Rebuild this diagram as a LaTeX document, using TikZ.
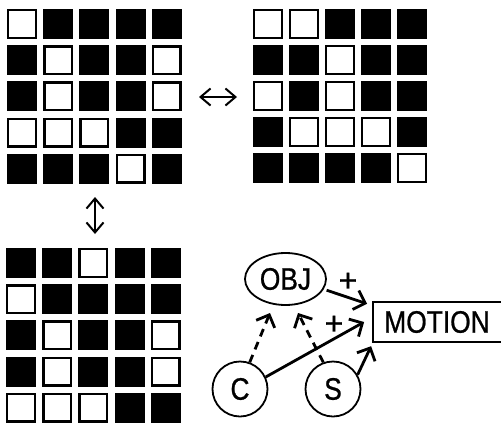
\documentclass[tikz,border=0pt]{standalone}
\usepackage{fontspec}
\newfontfamily\lblfont[FakeStretch=0.85,FakeBold=0.8]{Liberation Sans}
\newfontfamily\plusfont[FakeBold=1]{Liberation Sans}
\usetikzlibrary{arrows.meta,shapes.geometric}
\newcommand\drawgrid[4]{%
  \foreach \row [count=\i from 0] in {#4} {%
    \foreach \v [count=\j from 0] in \row {%
      \pgfmathsetmacro\cx{#1+#3*\j}%
      \pgfmathsetmacro\cy{#2+#3*\i}%
      \ifnum\v=1
        \draw[wcell] (\cx+1.2,\cy+1.2) rectangle (\cx+28.8,\cy+28.8);
      \else
        \fill[bcell] (\cx,\cy) rectangle (\cx+30,\cy+30);
      \fi
    }%
  }%
}
\begin{document}
\begin{tikzpicture}[x=1pt,y=-1pt,
  wcell/.style={draw=black,line width=2.4pt,fill=white},
  bcell/.style={fill=black},
  lbl/.style={font=\lblfont\fontsize{31}{31}\selectfont},
  plus/.style={font=\plusfont\fontsize{32}{32}\selectfont,inner sep=0pt},
  arr/.style={line width=2.8pt,-{Straight Barb[length=10pt,width=20pt]}},
  darr/.style={arr,dash pattern=on 8pt off 6pt},
  dbl/.style={line width=2pt,{Straight Barb[length=10pt,width=17pt]}-{Straight Barb[length=10pt,width=17pt]}},
  ring/.style={draw,line width=1.8pt,inner sep=0pt}]
\useasboundingbox (0,0) rectangle (501,426);
\fill[white] (0,0) rectangle (501,426);
% grids
\drawgrid{7}{9}{36.2}{{1,0,0,0,0},{0,1,0,0,1},{0,1,0,0,1},{1,1,1,0,0},{0,0,0,1,0}}
\drawgrid{253}{9}{36}{{1,1,0,0,0},{0,0,1,0,0},{1,0,1,0,0},{0,1,1,1,0},{0,0,0,0,1}}
\drawgrid{6}{248}{36.2}{{0,0,1,0,0},{1,0,0,0,0},{0,1,0,0,1},{0,1,0,0,1},{1,1,1,0,0}}
% equivalence arrows
\coordinate (hA) at (199,97);
\coordinate (hB) at (237,97);
\coordinate (vA) at (95,197);
\coordinate (vB) at (95,234);
\draw[dbl] (hA) -- (hB);
\draw[dbl] (vA) -- (vB);
% graph
\node[ellipse,ring,minimum width=81pt,minimum height=52pt,lbl] (obj) at (285.5,279) {OBJ};
\node[circle,ring,minimum size=55pt,lbl] (c) at (240,389) {C};
\node[circle,ring,minimum size=55pt,lbl] (s) at (333,389) {S};
\node[lbl,inner xsep=11pt,minimum height=40pt] (motion) at (437,322) {MOTION};
\draw[line width=1.5pt] (motion.north west) rectangle ([xshift=30pt]motion.south east);
\coordinate (m1) at ([shift={(-6,2)}]motion.north west);
\coordinate (m2) at ([xshift=-9pt]motion.west);
\coordinate (m3) at ([shift={(-2,4)}]motion.south west);
\coordinate (o1) at ([shift={(-15.5,34)}]obj.center);
\coordinate (o2) at ([shift={(12.5,34)}]obj.center);
\draw[arr,shorten <=3pt] (obj.-15) -- (m1);
\draw[arr] (c.25) -- (m2);
\draw[arr] (s.30) -- (m3);
\draw[darr] (c.70) -- (o1);
\draw[darr] (s.110) -- (o2);
\node[plus] (p1) at (348,282) {+};
\node[plus] (p2) at (334,325) {+};
\end{tikzpicture}
\end{document}
